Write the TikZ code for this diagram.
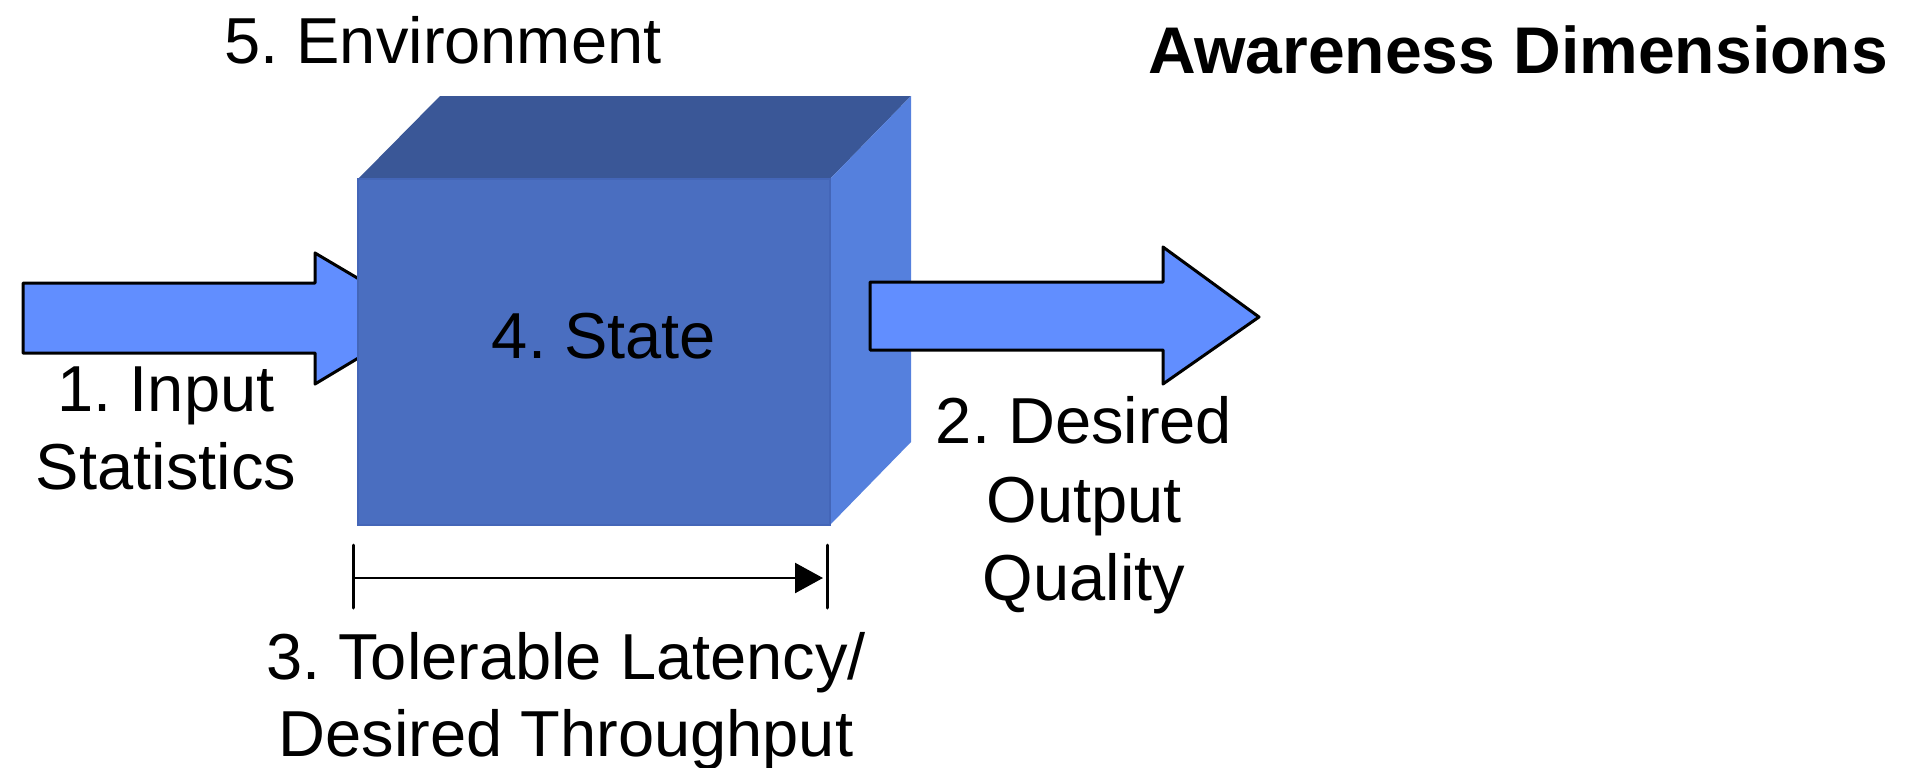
\documentclass[tikz,border=0pt]{standalone}
\usepackage{fontspec}
\setmainfont{Liberation Sans}
\usetikzlibrary{arrows.meta}
\definecolor{arrowblue}{RGB}{97,142,255}
\definecolor{frontblue}{RGB}{74,110,192}
\definecolor{topblue}{RGB}{58,87,151}
\definecolor{sideblue}{RGB}{85,128,221}
\definecolor{edgeblue}{RGB}{68,102,184}
\frenchspacing
\begin{document}
\frenchspacing
\begin{tikzpicture}[x=1pt,y=-1pt,
  lbl/.style={font=\fontsize{65}{78}\selectfont, inner sep=0pt, anchor=base},
  fatarrow/.style={draw=black, line width=3pt, line join=round, fill=arrowblue},
  tick/.style={line width=3pt, line cap=round}]
\useasboundingbox (0,0) rectangle (1907,768);
% input arrow (passes under the cube)
\draw[fatarrow] (23,283) -- (315,283) -- (315,253) -- (425,318) -- (315,384) -- (315,353) -- (23,353) -- cycle;
% cube
\fill[topblue] (358,179) -- (440,96) -- (911,96) -- (830,179) -- cycle;
\fill[sideblue] (830,179) -- (911,96) -- (911,442) -- (830,525) -- cycle;
\draw[fill=frontblue, draw=edgeblue, line width=1.5pt] (358,179) rectangle (830,525);
% output arrow (lies over the cube's side face)
\draw[fatarrow] (870,282) -- (1163,282) -- (1163,247) -- (1259,317) -- (1163,384) -- (1163,350) -- (870,350) -- cycle;
% bracket
\coordinate (bl) at (353,578);
\coordinate (br) at (823,578);
\coordinate (tlt) at (353,545); \coordinate (tlb) at (353,608);
\coordinate (trt) at (827,545); \coordinate (trb) at (827,608);
\draw[tick] (tlt) -- (tlb);
\draw[tick] (trt) -- (trb);
\draw[line width=2.5pt, -{Triangle[length=28pt,width=30pt]}] (bl) -- (br);
% labels
\node[lbl] (env) at (443,64) {5. Environment};
\node[lbl, anchor=base east, font=\fontsize{66}{78}\selectfont\bfseries] (title) at (1888,74) {Awareness Dimensions};
\node[lbl] (state) at (604,358) {4. State};
\node[lbl] (in1) at (166,411) {1. Input};
\node[lbl] (in2) at (166,489) {Statistics};
\node[lbl] (out1) at (1084,443) {2. Desired};
\node[lbl] (out2) at (1084,522) {Output};
\node[lbl] (out3) at (1084,600) {Quality};
\node[lbl] (lat1) at (566,679) {3. Tolerable Latency/};
\node[lbl] (lat2) at (566,756) {Desired Throughput};
\end{tikzpicture}
\end{document}
